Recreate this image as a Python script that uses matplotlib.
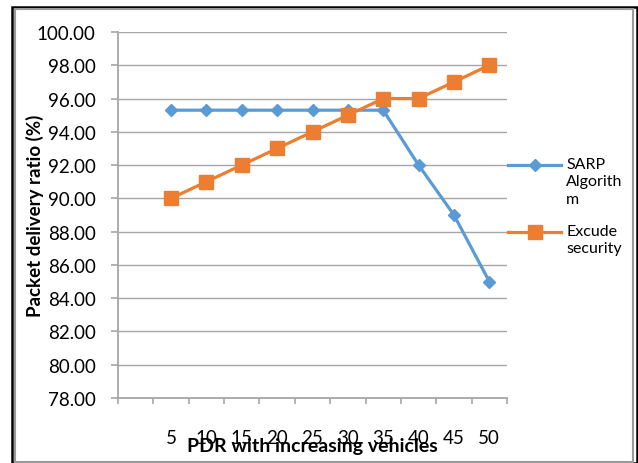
import matplotlib

matplotlib.use("Agg")
import matplotlib.pyplot as plt
from matplotlib.lines import Line2D
from matplotlib.patches import Rectangle

plt.rcParams["font.family"] = ["Lato", "DejaVu Sans"]

# category 0 is an empty slot on the axis, data starts at 5
vehicles = [5, 10, 15, 20, 25, 30, 35, 40, 45, 50]
sarp_pdr = [95.3, 95.3, 95.3, 95.3, 95.3, 95.3, 95.3, 92.0, 89.0, 85.0]
excude_pdr = [90.0, 91.0, 92.0, 93.0, 94.0, 95.0, 96.0, 96.0, 97.0, 98.0]
y_ticks = [78, 80, 82, 84, 86, 88, 90, 92, 94, 96, 98, 100]
series_names = ["SARP\nAlgorith\nm", "Excude\nsecurity"]

BLUE = "#5B9BD5"
ORANGE = "#ED7D31"
GRID = "#A6A6A6"

W, H = 638, 464
fig = plt.figure(figsize=(W / 100, H / 100), dpi=100)
ax = fig.add_axes([118 / W, 1 - 399 / H, 389 / W, 366 / H])

ax.plot(vehicles, sarp_pdr, color=BLUE, lw=2.3, marker="D", ms=6.2, zorder=3)
ax.plot(vehicles, excude_pdr, color=ORANGE, lw=2.3, marker="s", ms=9.5, zorder=3)

ax.set_xlim(-2.5, 52.5)
ax.set_ylim(78, 100)
ax.set_yticks(y_ticks)
ax.set_yticklabels([f"{v:.2f}" for v in y_ticks])
ax.set_xticks(vehicles)
ax.set_xticklabels([str(v) for v in vehicles])
ax.set_xticks([-2.5 + 5 * i for i in range(12)], minor=True)

ax.grid(axis="y", color=GRID, lw=1.0)
ax.set_axisbelow(True)
for side in ("top", "right"):
    ax.spines[side].set_visible(False)
for side in ("left", "bottom"):
    ax.spines[side].set_color(GRID)
    ax.spines[side].set_linewidth(1.3)

ax.tick_params(axis="y", direction="out", length=5, width=1.2, color=GRID,
               pad=11, labelsize=13.5, labelcolor="#000000")
ax.tick_params(axis="x", which="major", length=0, pad=22, labelsize=13.5)
ax.tick_params(axis="x", which="minor", direction="out", length=4, width=1.2, color=GRID)

ax.set_xlabel("PDR with increasing vehicles", fontsize=14, fontweight="bold")
ax.xaxis.set_label_coords(0.5, -0.131)
ax.xaxis.label.set_va("center")
ax.set_ylabel("Packet delivery ratio (%)", fontsize=13.5, fontweight="bold")
ax.yaxis.set_label_coords(-0.214, 0.5)
ax.yaxis.label.set_va("center")

# legend drawn by hand so the handle sits on the first line of each label
legend_rows = [(166, BLUE, "D", 6.2), (233, ORANGE, "s", 9.5)]
for (yp, color, marker, ms), name in zip(legend_rows, series_names):
    fy = 1 - yp / H
    fig.add_artist(Line2D([508 / W, 561 / W], [fy, fy], color=color, lw=2.3,
                          transform=fig.transFigure))
    fig.add_artist(Line2D([535 / W], [fy], color=color, marker=marker, ms=ms,
                          transform=fig.transFigure))
    fig.text(566 / W, fy + 8 / H, name, fontsize=11.5, va="top", ha="left",
             linespacing=1.3)

# outer frame: black line with a grey inner line
fig.add_artist(Rectangle((12 / W, 0), 625 / W, 1 - 8 / H, transform=fig.transFigure,
                         fill=False, ec="#000000", lw=1.8))
fig.add_artist(Rectangle((15 / W, 1 / H), 618 / W, 1 - 11 / H, transform=fig.transFigure,
                         fill=False, ec="#9A9A9A", lw=1.5))

fig.savefig("out.png", dpi=100)
